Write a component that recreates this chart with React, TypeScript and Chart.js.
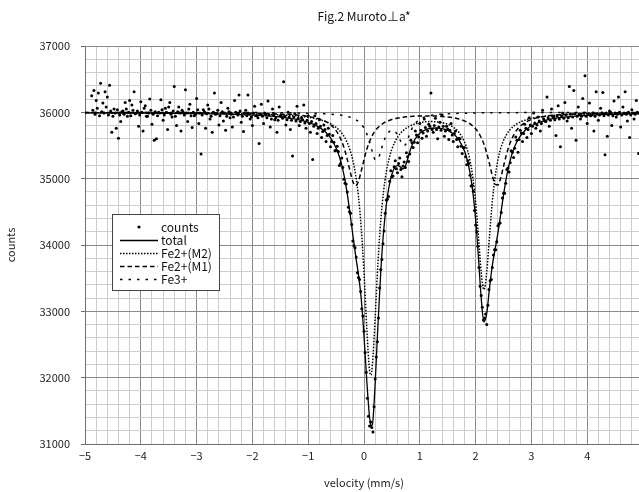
import React, { useEffect, useRef } from 'react';
import { Chart, registerables } from 'chart.js';

Chart.register(...registerables);

// ---- data ----
const chartTitle = 'Fig.2 Muroto\u22A5a*';
const xTitle = 'velocity (mm/s)';
const yTitle = 'counts';
const xRange = [-5, 5];
const yRange = [31000, 37000];

// fitted curves, sampled positions (mm/s)
const curveVelocity = [
  -5, -4.5, -4, -3.5, -3, -2.5, -2, -1.75, -1.5, -1.25,
  -1, -0.9, -0.8, -0.7, -0.6, -0.5, -0.45, -0.4, -0.35, -0.3,
  -0.25, -0.2, -0.15, -0.1, -0.05, 0, 0.05, 0.1, 0.125, 0.15,
  0.175, 0.2, 0.25, 0.3, 0.35, 0.4, 0.45, 0.5, 0.55, 0.6,
  0.65, 0.7, 0.75, 0.8, 0.85, 0.9, 1, 1.1, 1.2, 1.3,
  1.4, 1.5, 1.6, 1.7, 1.8, 1.85, 1.9, 1.95, 2, 2.05,
  2.1, 2.15, 2.2, 2.25, 2.3, 2.35, 2.4, 2.45, 2.5, 2.55,
  2.6, 2.7, 2.8, 2.9, 3, 3.25, 3.5, 4, 4.5, 5,
];

const totalFit = [
  35992, 35990, 35988, 35985, 35980, 35972, 35958, 35946, 35929, 35901,
  35850, 35818, 35773, 35710, 35615, 35463, 35352, 35208, 35018, 34772,
  34473, 34148, 33841, 33556, 33194, 32631, 31950, 31400, 31280, 31290,
  31530, 31915, 32793, 33588, 34192, 34609, 34887, 35066, 35166, 35200,
  35177, 35149, 35211, 35350, 35481, 35576, 35684, 35736, 35760, 35764,
  35756, 35728, 35676, 35585, 35416, 35281, 35087, 34804, 34392, 33827,
  33204, 32839, 32971, 33357, 33694, 33939, 34180, 34462, 34752, 35008,
  35212, 35484, 35641, 35736, 35797, 35880, 35920, 35956, 35971, 35980,
];

const fe2M2 = [
  35995, 35994, 35993, 35991, 35989, 35984, 35977, 35971, 35962, 35948,
  35924, 35910, 35891, 35865, 35828, 35773, 35735, 35688, 35626, 35543,
  35432, 35277, 35057, 34735, 34259, 33579, 32743, 32105, 32040, 32187,
  32503, 32909, 33728, 34364, 34803, 35100, 35303, 35446, 35548, 35624,
  35681, 35724, 35758, 35784, 35805, 35821, 35844, 35857, 35861, 35856,
  35844, 35820, 35776, 35700, 35557, 35440, 35271, 35020, 34650, 34141,
  33592, 33328, 33594, 34145, 34656, 35028, 35281, 35454, 35573, 35658,
  35721, 35803, 35854, 35886, 35909, 35942, 35960, 35977, 35985, 35989,
];

const fe2M1 = [
  35997, 35997, 35996, 35995, 35993, 35990, 35985, 35980, 35974, 35963,
  35939, 35923, 35900, 35867, 35814, 35724, 35656, 35565, 35444, 35290,
  35114, 34958, 34893, 34958, 35113, 35288, 35442, 35562, 35611, 35653,
  35689, 35720, 35770, 35808, 35838, 35860, 35878, 35892, 35904, 35913,
  35921, 35927, 35932, 35936, 35939, 35942, 35945, 35946, 35946, 35943,
  35938, 35930, 35918, 35900, 35872, 35852, 35827, 35794, 35752, 35695,
  35620, 35518, 35384, 35219, 35044, 34917, 34904, 35014, 35185, 35355,
  35496, 35686, 35792, 35853, 35892, 35941, 35963, 35981, 35988, 35992,
];

const fe3 = [
  35999, 35999, 35999, 35998, 35998, 35997, 35996, 35995, 35993, 35991,
  35987, 35985, 35982, 35978, 35973, 35966, 35961, 35955, 35948, 35939,
  35927, 35912, 35891, 35863, 35822, 35764, 35677, 35554, 35480, 35403,
  35334, 35286, 35295, 35416, 35551, 35649, 35706, 35727, 35714, 35663,
  35575, 35498, 35521, 35630, 35737, 35813, 35895, 35933, 35953, 35965,
  35973, 35978, 35982, 35985, 35987, 35988, 35989, 35990, 35990, 35991,
  35992, 35992, 35993, 35993, 35993, 35994, 35994, 35994, 35994, 35995,
  35995, 35995, 35996, 35996, 35996, 35997, 35997, 35998, 35998, 35998,
];

// measured points, even channels
const velocity = [
  -4.88, -4.84, -4.8, -4.76, -4.72, -4.68, -4.64, -4.6, -4.56, -4.52,
  -4.48, -4.44, -4.4, -4.36, -4.32, -4.28, -4.24, -4.2, -4.16, -4.12,
  -4.08, -4.04, -4, -3.96, -3.92, -3.88, -3.84, -3.8, -3.76, -3.72,
  -3.68, -3.64, -3.6, -3.56, -3.52, -3.48, -3.44, -3.4, -3.36, -3.32,
  -3.28, -3.24, -3.2, -3.16, -3.12, -3.08, -3.04, -3, -2.96, -2.92,
  -2.88, -2.84, -2.8, -2.76, -2.72, -2.68, -2.64, -2.6, -2.56, -2.52,
  -2.48, -2.44, -2.4, -2.36, -2.32, -2.28, -2.24, -2.2, -2.16, -2.12,
  -2.08, -2.04, -2, -1.96, -1.92, -1.88, -1.84, -1.8, -1.76, -1.72,
  -1.68, -1.64, -1.6, -1.56, -1.52, -1.48, -1.44, -1.4, -1.36, -1.32,
  -1.28, -1.24, -1.2, -1.16, -1.12, -1.08, -1.04, -1, -0.96, -0.92,
  -0.88, -0.84, -0.8, -0.76, -0.72, -0.68, -0.64, -0.6, -0.56, -0.52,
  -0.48, -0.44, -0.4, -0.36, -0.32, -0.28, -0.24, -0.2, -0.16, -0.12,
  -0.08, -0.04, 0, 0.04, 0.08, 0.12, 0.16, 0.2, 0.24, 0.28,
  0.32, 0.36, 0.4, 0.44, 0.48, 0.52, 0.56, 0.6, 0.64, 0.68,
  0.72, 0.76, 0.8, 0.84, 0.88, 0.92, 0.96, 1, 1.04, 1.08,
  1.12, 1.16, 1.2, 1.24, 1.28, 1.32, 1.36, 1.4, 1.44, 1.48,
  1.52, 1.56, 1.6, 1.64, 1.68, 1.72, 1.76, 1.8, 1.84, 1.88,
  1.92, 1.96, 2, 2.04, 2.08, 2.12, 2.16, 2.2, 2.24, 2.28,
  2.32, 2.36, 2.4, 2.44, 2.48, 2.52, 2.56, 2.6, 2.64, 2.68,
  2.72, 2.76, 2.8, 2.84, 2.88, 2.92, 2.96, 3, 3.04, 3.08,
  3.12, 3.16, 3.2, 3.24, 3.28, 3.32, 3.36, 3.4, 3.44, 3.48,
  3.52, 3.56, 3.6, 3.64, 3.68, 3.72, 3.76, 3.8, 3.84, 3.88,
  3.92, 3.96, 4, 4.04, 4.08, 4.12, 4.16, 4.2, 4.24, 4.28,
  4.32, 4.36, 4.4, 4.44, 4.48, 4.52, 4.56, 4.6, 4.64, 4.68,
  4.72, 4.76, 4.8, 4.84, 4.88, 4.92,
];

const counts = [
  36250, 36330, 36180, 36290, 36440, 36140, 36310, 36230, 36410, 35700,
  36050, 35760, 35610, 35860, 36020, 36150, 35940, 36180, 36110, 36310,
  35990, 35790, 36160, 35720, 36100, 35940, 36200, 35820, 35580, 35600,
  36000, 36190, 35880, 36060, 35740, 36150, 35930, 36390, 35800, 36080,
  35720, 36000, 36340, 35860, 36120, 35770, 35950, 36210, 35830, 35370,
  36040, 35760, 36110, 35900, 35700, 36290, 35980, 35810, 36150, 35870,
  35730, 36060, 35920, 35780, 36180, 35990, 36260, 35850, 35710, 36030,
  36260, 35900, 35800, 36090, 35950, 35530, 36120, 35830, 35970, 36170,
  35780, 36050, 35890, 35700, 36080, 35940, 36460, 35810, 36000, 35740,
  35340, 35980, 36090, 35800, 35920, 36110, 35760, 35950, 35700, 35290,
  35950, 35680, 35890, 35620, 35810, 35560, 35760, 35480, 35650, 35420,
  35490, 35200, 35310, 34990, 34920, 34570, 34480, 34060, 33960, 33580,
  33480, 33040, 32700, 32080, 31420, 31330, 31180, 31980, 32540, 33350,
  33780, 34210, 34680, 34730, 35120, 35040, 35270, 35090, 35310, 35030,
  35250, 35390, 35260, 35580, 35470, 35720, 35540, 35830, 35610, 35900,
  35640, 35820, 36290, 35700, 35910, 35600, 35850, 35960, 35640, 35790,
  35590, 35830, 35560, 35720, 35480, 35600, 35380, 35470, 35210, 35230,
  34890, 34810, 34300, 33980, 33380, 33060, 32900, 32800, 33330, 33480,
  33850, 33930, 34290, 34330, 34710, 34780, 35140, 35100, 35420, 35320,
  35630, 35400, 35730, 35560, 35820, 35620, 35920, 35680, 35990, 35760,
  35930, 35720, 36030, 35870, 36230, 35790, 36050, 35930, 35650, 36100,
  35480, 35990, 36150, 35870, 36390, 35760, 36330, 35580, 36080, 35900,
  36210, 36550, 35830, 36140, 35960, 35720, 36310, 35880, 36060, 36300,
  35360, 35640, 36020, 35800, 36170, 35930, 36230, 35780, 36080, 36310,
  35870, 35620, 36040, 35900, 36180, 35380,
];

// measured points, odd channels
const velocity2 = [
  -4.86, -4.82, -4.78, -4.74, -4.7, -4.66, -4.62, -4.58, -4.54, -4.5,
  -4.46, -4.42, -4.38, -4.34, -4.3, -4.26, -4.22, -4.18, -4.14, -4.1,
  -4.06, -4.02, -3.98, -3.94, -3.9, -3.86, -3.82, -3.78, -3.74, -3.7,
  -3.66, -3.62, -3.58, -3.54, -3.5, -3.46, -3.42, -3.38, -3.34, -3.3,
  -3.26, -3.22, -3.18, -3.14, -3.1, -3.06, -3.02, -2.98, -2.94, -2.9,
  -2.86, -2.82, -2.78, -2.74, -2.7, -2.66, -2.62, -2.58, -2.54, -2.5,
  -2.46, -2.42, -2.38, -2.34, -2.3, -2.26, -2.22, -2.18, -2.14, -2.1,
  -2.06, -2.02, -1.98, -1.94, -1.9, -1.86, -1.82, -1.78, -1.74, -1.7,
  -1.66, -1.62, -1.58, -1.54, -1.5, -1.46, -1.42, -1.38, -1.34, -1.3,
  -1.26, -1.22, -1.18, -1.14, -1.1, -1.06, -1.02, -0.98, -0.94, -0.9,
  -0.86, -0.82, -0.78, -0.74, -0.7, -0.66, -0.62, -0.58, -0.54, -0.5,
  -0.46, -0.42, -0.38, -0.34, -0.3, -0.26, -0.22, -0.18, -0.14, -0.1,
  -0.06, -0.02, 0.02, 0.06, 0.1, 0.14, 0.18, 0.22, 0.26, 0.3,
  0.34, 0.38, 0.42, 0.46, 0.5, 0.54, 0.58, 0.62, 0.66, 0.7,
  0.74, 0.78, 0.82, 0.86, 0.9, 0.94, 0.98, 1.02, 1.06, 1.1,
  1.14, 1.18, 1.22, 1.26, 1.3, 1.34, 1.38, 1.42, 1.46, 1.5,
  1.54, 1.58, 1.62, 1.66, 1.7, 1.74, 1.78, 1.82, 1.86, 1.9,
  1.94, 1.98, 2.02, 2.06, 2.1, 2.14, 2.18, 2.22, 2.26, 2.3,
  2.34, 2.38, 2.42, 2.46, 2.5, 2.54, 2.58, 2.62, 2.66, 2.7,
  2.74, 2.78, 2.82, 2.86, 2.9, 2.94, 2.98, 3.02, 3.06, 3.1,
  3.14, 3.18, 3.22, 3.26, 3.3, 3.34, 3.38, 3.42, 3.46, 3.5,
  3.54, 3.58, 3.62, 3.66, 3.7, 3.74, 3.78, 3.82, 3.86, 3.9,
  3.94, 3.98, 4.02, 4.06, 4.1, 4.14, 4.18, 4.22, 4.26, 4.3,
  4.34, 4.38, 4.42, 4.46, 4.5, 4.54, 4.58, 4.62, 4.66, 4.7,
  4.74, 4.78, 4.82, 4.86, 4.9, 4.94,
];

const counts2 = [
  36030, 35970, 36060, 35950, 36010, 35990, 36080, 35960, 36020, 35940,
  35990, 36040, 35960, 36010, 35970, 36050, 36000, 35950, 36030, 35980,
  36020, 35960, 36000, 36060, 35940, 35990, 36030, 35970, 36010, 35950,
  35990, 36040, 35960, 36000, 36080, 35970, 36020, 35940, 36010, 35990,
  36030, 35960, 35990, 36050, 35950, 36000, 35970, 36040, 35990, 35960,
  36010, 35980, 36050, 35940, 36000, 35970, 36030, 35950, 36010, 35990,
  35940, 36010, 35970, 35930, 36000, 35960, 36020, 35940, 35990, 35950,
  35980, 35930, 35990, 35950, 35920, 35970, 35940, 35990, 35920, 35960,
  35900, 35960, 35920, 35880, 35950, 35910, 35940, 35890, 35930, 35880,
  35930, 35870, 35910, 35860, 35890, 35840, 35880, 35830, 35860, 35790,
  35830, 35760, 35790, 35710, 35740, 35650, 35670, 35560, 35550, 35430,
  35410, 35230, 35170, 34930, 34800, 34500, 34310, 33990, 33820, 33510,
  33300, 32930, 32380, 31690, 31270, 31250, 31560, 32310, 32900, 33630,
  34020, 34480, 34690, 34960, 35030, 35180, 35150, 35230, 35140, 35190,
  35170, 35330, 35370, 35540, 35550, 35660, 35630, 35730, 35690, 35770,
  35720, 35790, 35740, 35800, 35740, 35780, 35730, 35790, 35720, 35750,
  35730, 35660, 35680, 35590, 35610, 35490, 35470, 35330, 35270, 35050,
  34900, 34520, 34200, 33660, 33240, 32870, 32960, 33090, 33460, 33660,
  33930, 34050, 34320, 34490, 34780, 34930, 35160, 35240, 35400, 35460,
  35580, 35590, 35690, 35680, 35760, 35740, 35810, 35790, 35840, 35810,
  35870, 35830, 35900, 35860, 35920, 35880, 35940, 35890, 35940, 35900,
  35950, 35910, 35960, 35920, 35970, 35930, 35980, 35940, 35970, 35940,
  35990, 35940, 35980, 35950, 35990, 35940, 35980, 35960, 35990, 35950,
  35990, 35960, 36000, 35950, 35990, 35970, 36000, 35960, 35990, 35970,
  36000, 35960, 35990, 35970, 36000, 35980,
];

const FONT = "'Noto Sans CJK JP', 'DejaVu Sans', sans-serif";

const isMajorX = (v: number) => Math.abs(v - Math.round(v)) < 1e-6;
const isMajorY = (v: number) => Math.abs(v / 1000 - Math.round(v / 1000)) < 1e-6;

const pairs = (xs: number[], ys: number[]) => xs.map((x, i) => ({ x, y: ys[i] }));

const titlePlugin = {
  id: 'figTitle',
  afterDraw(chart: any) {
    const { ctx, chartArea } = chart;
    ctx.save();
    ctx.fillStyle = '#111';
    ctx.font = `12px ${FONT}`;
    ctx.textAlign = 'center';
    ctx.textBaseline = 'middle';
    ctx.fillText(chartTitle, (chartArea.left + chartArea.right) / 2, 16);
    ctx.restore();
  },
};

const boxLegendPlugin = {
  id: 'boxLegend',
  afterDatasetsDraw(chart: any) {
    const { ctx, chartArea } = chart;
    const x0 = chartArea.left + 27;
    const y0 = chartArea.top + 168;
    const w = 107;
    const h = 76;
    ctx.save();
    ctx.fillStyle = '#ffffff';
    ctx.fillRect(x0, y0, w, h);
    ctx.strokeStyle = '#444';
    ctx.lineWidth = 1;
    ctx.strokeRect(x0 + 0.5, y0 + 0.5, w, h);
    ctx.font = `12px ${FONT}`;
    ctx.textBaseline = 'middle';
    ctx.textAlign = 'left';
    chart.data.datasets.forEach((ds: any, i: number) => {
      const y = y0 + 13 + i * 13;
      const sx0 = x0 + 8;
      const sx1 = x0 + 46;
      if (ds.showLine === false) {
        ctx.fillStyle = '#000';
        ctx.beginPath();
        ctx.arc((sx0 + sx1) / 2, y, 1.6, 0, Math.PI * 2);
        ctx.fill();
      } else {
        ctx.strokeStyle = ds.borderColor;
        ctx.lineWidth = ds.borderWidth;
        ctx.setLineDash(ds.borderDash || []);
        ctx.beginPath();
        ctx.moveTo(sx0, y + 0.5);
        ctx.lineTo(sx1, y + 0.5);
        ctx.stroke();
        ctx.setLineDash([]);
      }
      ctx.fillStyle = '#111';
      ctx.fillText(ds.label, sx1 + 3, y);
    });
    ctx.restore();
  },
};

export default function App() {
  const canvasRef = useRef<HTMLCanvasElement | null>(null);

  useEffect(() => {
    const canvas = canvasRef.current;
    if (!canvas) return;
    const lineBase = {
      showLine: true,
      pointRadius: 0,
      borderColor: '#000',
      fill: false,
      cubicInterpolationMode: 'monotone' as const,
    };
    const pointData = pairs(velocity, counts).concat(pairs(velocity2, counts2));
    const chart = new Chart(canvas, {
      type: 'scatter',
      data: {
        datasets: [
          {
            label: 'counts',
            data: pointData,
            showLine: false,
            pointRadius: 1.5,
            pointBackgroundColor: '#000',
            pointBorderWidth: 0,
            borderColor: '#000',
          },
          { ...lineBase, label: 'total', data: pairs(curveVelocity, totalFit), borderWidth: 1.3 },
          { ...lineBase, label: 'Fe2+(M2)', data: pairs(curveVelocity, fe2M2), borderWidth: 1.5, borderDash: [1.5, 1.5] },
          { ...lineBase, label: 'Fe2+(M1)', data: pairs(curveVelocity, fe2M1), borderWidth: 1.5, borderDash: [4.5, 3] },
          { ...lineBase, label: 'Fe3+', data: pairs(curveVelocity, fe3), borderWidth: 1.5, borderDash: [2.5, 6] },
        ] as any,
      },
      options: {
        responsive: false,
        animation: false,
        devicePixelRatio: 1,
        layout: { padding: { left: 0, top: 46, right: 37, bottom: 0 } },
        plugins: {
          legend: { display: false },
          tooltip: { enabled: false },
          title: { display: false },
        },
        scales: {
          x: {
            type: 'linear',
            min: xRange[0],
            max: xRange[1],
            afterFit(scale: any) {
              scale.height = 48;
            },
            border: { color: '#707070' },
            grid: {
              drawTicks: false,
              color: (c: any) => (c.tick && isMajorX(c.tick.value) ? '#8a8a8a' : '#cdcdcd'),
            },
            ticks: {
              stepSize: 0.2,
              maxTicksLimit: 200,
              autoSkip: false,
              maxRotation: 0,
              padding: 5,
              color: '#222',
              font: { family: FONT, size: 11 },
              callback: (v: any) => {
                const n = Number(v);
                if (!isMajorX(n)) return '';
                const r = Math.round(n);
                return r < 0 ? '\u2212' + String(-r) : String(r);
              },
            },
            title: {
              display: true,
              text: xTitle,
              color: '#222',
              font: { family: FONT, size: 11 },
              padding: { top: 0, bottom: 3 },
            },
          },
          y: {
            type: 'linear',
            min: yRange[0],
            max: yRange[1],
            afterFit(scale: any) {
              scale.width = 85;
            },
            border: { color: '#707070' },
            grid: {
              tickLength: 4,
              color: (c: any) => (c.tick && isMajorY(c.tick.value) ? '#8a8a8a' : '#cdcdcd'),
              tickColor: (c: any) => (c.tick && isMajorY(c.tick.value) ? '#707070' : 'rgba(0,0,0,0)'),
            },
            ticks: {
              stepSize: 200,
              maxTicksLimit: 200,
              autoSkip: false,
              padding: 11,
              color: '#222',
              font: { family: FONT, size: 11 },
              callback: (v: any) => (isMajorY(Number(v)) ? String(v) : ''),
            },
            title: {
              display: true,
              text: yTitle,
              color: '#222',
              font: { family: FONT, size: 11 },
              padding: { top: 4, bottom: 0 },
            },
          },
        },
      } as any,
      plugins: [titlePlugin, boxLegendPlugin],
    });
    return () => chart.destroy();
  }, []);

  return (
    <div
      style={{
        position: 'fixed',
        left: 0,
        top: 0,
        width: 639,
        height: 492,
        overflow: 'hidden',
        background: '#fff',
      }}
    >
      <canvas
        ref={canvasRef}
        width={680}
        height={492}
        style={{ display: 'block', width: 680, height: 492 }}
      />
    </div>
  );
}
